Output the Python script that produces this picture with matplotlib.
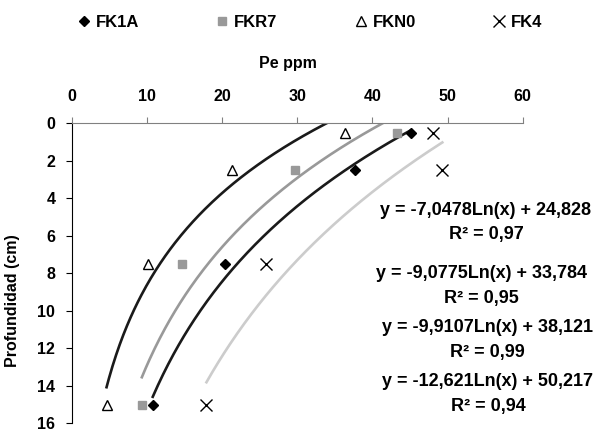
import numpy as np
import matplotlib
matplotlib.use('agg')
import matplotlib.pyplot as plt

plt.rcParams['font.family'] = ['Liberation Sans', 'DejaVu Sans']
plt.rcParams['font.weight'] = 'bold'

# depth (cm) of each sample and Pe (ppm) per series
depth = [0.5, 2.5, 7.5, 15]
fk1a = [45.1, 37.7, 20.4, 10.75]
fkr7 = [43.3, 29.7, 14.6, 9.3]
fkn0 = [36.4, 21.3, 10.1, 4.6]
fk4 = [48.1, 49.3, 25.8, 17.9]

# log trendlines (coefficients as printed on the chart): y = a*Ln(x) + b
trend_fkn0 = (-7.0478, 24.828, 0.97)
trend_fkr7 = (-9.0775, 33.784, 0.95)
trend_fk1a = (-9.9107, 38.121, 0.99)
trend_fk4 = (-12.621, 50.217, 0.94)

fig = plt.figure(figsize=(5.99, 4.32), dpi=100)
ax = fig.add_axes([0.1202, 0.02, 0.7524, 0.6946])

def trend(xs, coef, color):
	x = np.linspace(min(xs), max(xs), 200)
	y = coef[0] * np.log(x) + coef[1]
	ax.plot(x, y, color=color, lw=1.9, zorder=2)

trend(fkn0, trend_fkn0, '#1a1a1a')
trend(fkr7, trend_fkr7, '#999999')
trend(fk1a, trend_fk1a, '#1a1a1a')
trend(fk4, trend_fk4, '#cccccc')

h1, = ax.plot(fk1a, depth, 'D', color='black', ms=5, ls='none', zorder=3, label='FK1A')
h2, = ax.plot(fkr7, depth, 's', color='#999999', ms=6, ls='none', zorder=3, label='FKR7')
h3, = ax.plot(fkn0, depth, '^', mfc='white', mec='black', mew=1, ms=7.5, ls='none', zorder=3, label='FKN0')
h4, = ax.plot(fk4, depth, 'x', color='black', mew=1, ms=8, ls='none', zorder=3, label='FK4')

ax.set_xlim(0, 60)
ax.set_ylim(16, 0)
ax.set_xticks(range(0, 61, 10))
ax.set_yticks(range(0, 17, 2))
ax.xaxis.tick_top()
ax.xaxis.set_label_position('top')
ax.spines['right'].set_visible(False)
ax.spines['bottom'].set_visible(False)
ax.spines['top'].set_color('#808080')
ax.spines['left'].set_color('black')
ax.tick_params(axis='x', direction='out', length=4, color='#808080', pad=10, labelsize=11.5)
ax.tick_params(axis='y', direction='out', length=4, color='black', pad=8, labelsize=11.5)
for t in ax.get_xticklabels() + ax.get_yticklabels():
	t.set_fontweight('bold')

ax.set_xlabel('Pe ppm', fontsize=11.5, fontweight='bold')
ax.xaxis.set_label_coords(0.48, 1.183)
ax.set_ylabel('Profundidad (cm)', fontsize=11.5, fontweight='bold')
ax.yaxis.set_label_coords(-0.115, 0.41)

fig.legend(handles=[h1, h2, h3, h4], loc='center', bbox_to_anchor=(0.517, 0.948), ncol=4,
	frameon=False, handlelength=0.8, handletextpad=0.3, columnspacing=4.6,
	prop={'weight': 'bold', 'size': 12})

eqs = [trend_fkn0, trend_fkr7, trend_fk1a, trend_fk4]
eq_pos = [(486, 210, 235), (481, 274, 298), (487, 328, 353), (488, 382, 407)]
for coef, (px, py1, py2) in zip(eqs, eq_pos):
	a = ('%g' % coef[0]).replace('.', ',')
	b = ('%g' % coef[1]).replace('.', ',')
	fig.text(px / 599, 1 - py1 / 432, 'y = %sLn(x) + %s' % (a, b), ha='center', va='center',
		fontsize=13, fontweight='bold')
	fig.text(px / 599, 1 - py2 / 432, 'R² = %s' % ('%.2f' % coef[2]).replace('.', ','),
		ha='center', va='center', fontsize=13, fontweight='bold')

fig.savefig('out.png', dpi=100)
